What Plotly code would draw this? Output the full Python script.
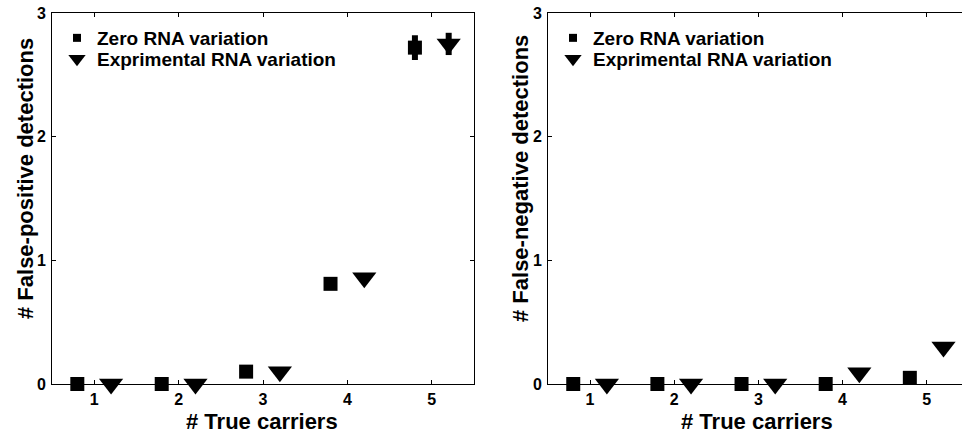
import plotly.graph_objects as go

carriers = [1, 2, 3, 4, 5]
offset = 0.2
fp_zero = [0.0, 0.0, 0.1, 0.81, 2.72]
fp_zero_err = [0.0, 0.0, 0.0, 0.0, 0.1]
fp_exp = [0.0, 0.0, 0.1, 0.86, 2.75]
fp_exp_err = [0.0, 0.0, 0.0, 0.0, 0.09]
fn_zero = [0.0, 0.0, 0.0, 0.0, 0.05]
fn_exp = [0.0, 0.0, 0.0, 0.09, 0.30]
series_names = ["Zero RNA variation", "Exprimental RNA variation"]
y_titles = ["# False-positive detections", "# False-negative detections"]
x_title = "# True carriers"

W, H = 962, 433
FONT = "Liberation Sans"
top, bottom = 13, 384
l1, r1 = 52, 474
l2, r2 = 548, 962

x_zero = [c - offset for c in carriers]
x_exp = [c + offset for c in carriers]

fig = go.Figure()

def add_panel(xa, ya, yz, yz_err, ye, ye_err):
    fig.add_trace(go.Scatter(
        x=x_zero, y=yz, mode="markers", name=series_names[0],
        xaxis=xa, yaxis=ya, showlegend=False, cliponaxis=False,
        marker=dict(symbol="square", size=14, color="black"),
        error_y=dict(type="data", array=yz_err, color="black", thickness=6, width=0) if yz_err else None,
    ))
    fig.add_trace(go.Scatter(
        x=x_exp, y=ye, mode="markers", name=series_names[1],
        xaxis=xa, yaxis=ya, showlegend=False, cliponaxis=False,
        marker=dict(symbol="triangle-down", size=21, color="black"),
        error_y=dict(type="data", array=ye_err, color="black", thickness=6, width=0) if ye_err else None,
    ))

add_panel("x", "y", fp_zero, fp_zero_err, fp_exp, fp_exp_err)
add_panel("x2", "y2", fn_zero, None, fn_exp, None)

# legend-only keys (one legend per entry for exact row placement)
legend_keys = [("square", 8), ("triangle-down", 15)]
for i, (xa, ya) in enumerate([("x", "y"), ("x2", "y2")]):
    for j, (sym, sz) in enumerate(legend_keys):
        fig.add_trace(go.Scatter(
            x=[None], y=[None], mode="markers", name=series_names[j],
            xaxis=xa, yaxis=ya, legend="legend" if (i * 2 + j) == 0 else f"legend{i * 2 + j + 1}",
            marker=dict(symbol=sym, size=sz, color="black"),
        ))

tickfont = dict(family=FONT, size=16, color="black", weight="bold")
axis_common = dict(showgrid=False, zeroline=False, showline=True, linecolor="black",
                   linewidth=1, ticks="inside", ticklen=4, tickcolor="black",
                   tickfont=tickfont)

plot_h = bottom - top
def py(p):
    return (bottom - p) / plot_h

leg_font = dict(family=FONT, size=19, color="black", weight="bold")
legends = {}
leg_x = [57, 553]
leg_y = [38, 59]
for i in range(2):
    for j in range(2):
        k = i * 2 + j
        key = "legend" if k == 0 else f"legend{k + 1}"
        legends[key] = dict(x=leg_x[i] / W, y=py(leg_y[j]), xanchor="left", yanchor="middle",
                            font=leg_font, bgcolor="rgba(0,0,0,0)", itemsizing="trace")

fig.update_layout(
    width=W, height=H,
    margin=dict(l=0, r=0, t=top, b=H - bottom),
    paper_bgcolor="white", plot_bgcolor="white",
    xaxis=dict(domain=[l1 / W, r1 / W], range=[0.5, 5.5], tickvals=carriers,
               mirror="ticks", anchor="y", ticklabelstandoff=1, **axis_common),
    yaxis=dict(domain=[0, 1], range=[0, 3], tickvals=[0, 1, 2, 3],
               mirror="ticks", anchor="x", ticklabelstandoff=2, **axis_common),
    xaxis2=dict(domain=[l2 / W, 1.0], range=[0.5, 5.42], tickvals=carriers,
                mirror="ticks", anchor="y2", ticklabelstandoff=1, **axis_common),
    yaxis2=dict(domain=[0, 1], range=[0, 3], tickvals=[0, 1, 2, 3],
                mirror=False, anchor="x2", ticklabelstandoff=2, **axis_common),
    showlegend=True,
    **legends,
)

ann_font = dict(family=FONT, size=22, color="black", weight="bold")
xt_font = dict(family=FONT, size=22, color="black", weight="bold")
fig.add_annotation(text=y_titles[0], xref="paper", yref="paper", x=25 / W, y=py(179),
                   textangle=-90, showarrow=False, font=ann_font, xanchor="center", yanchor="middle")
fig.add_annotation(text=y_titles[1], xref="paper", yref="paper", x=520 / W, y=py(179),
                   textangle=-90, showarrow=False, font=ann_font, xanchor="center", yanchor="middle")
fig.add_annotation(text=x_title, xref="paper", yref="paper", x=262 / W, y=py(436),
                   showarrow=False, font=xt_font, xanchor="center", yanchor="bottom")
fig.add_annotation(text=x_title, xref="paper", yref="paper", x=757 / W, y=py(436),
                   showarrow=False, font=xt_font, xanchor="center", yanchor="bottom")

fig.write_html("out.html")
